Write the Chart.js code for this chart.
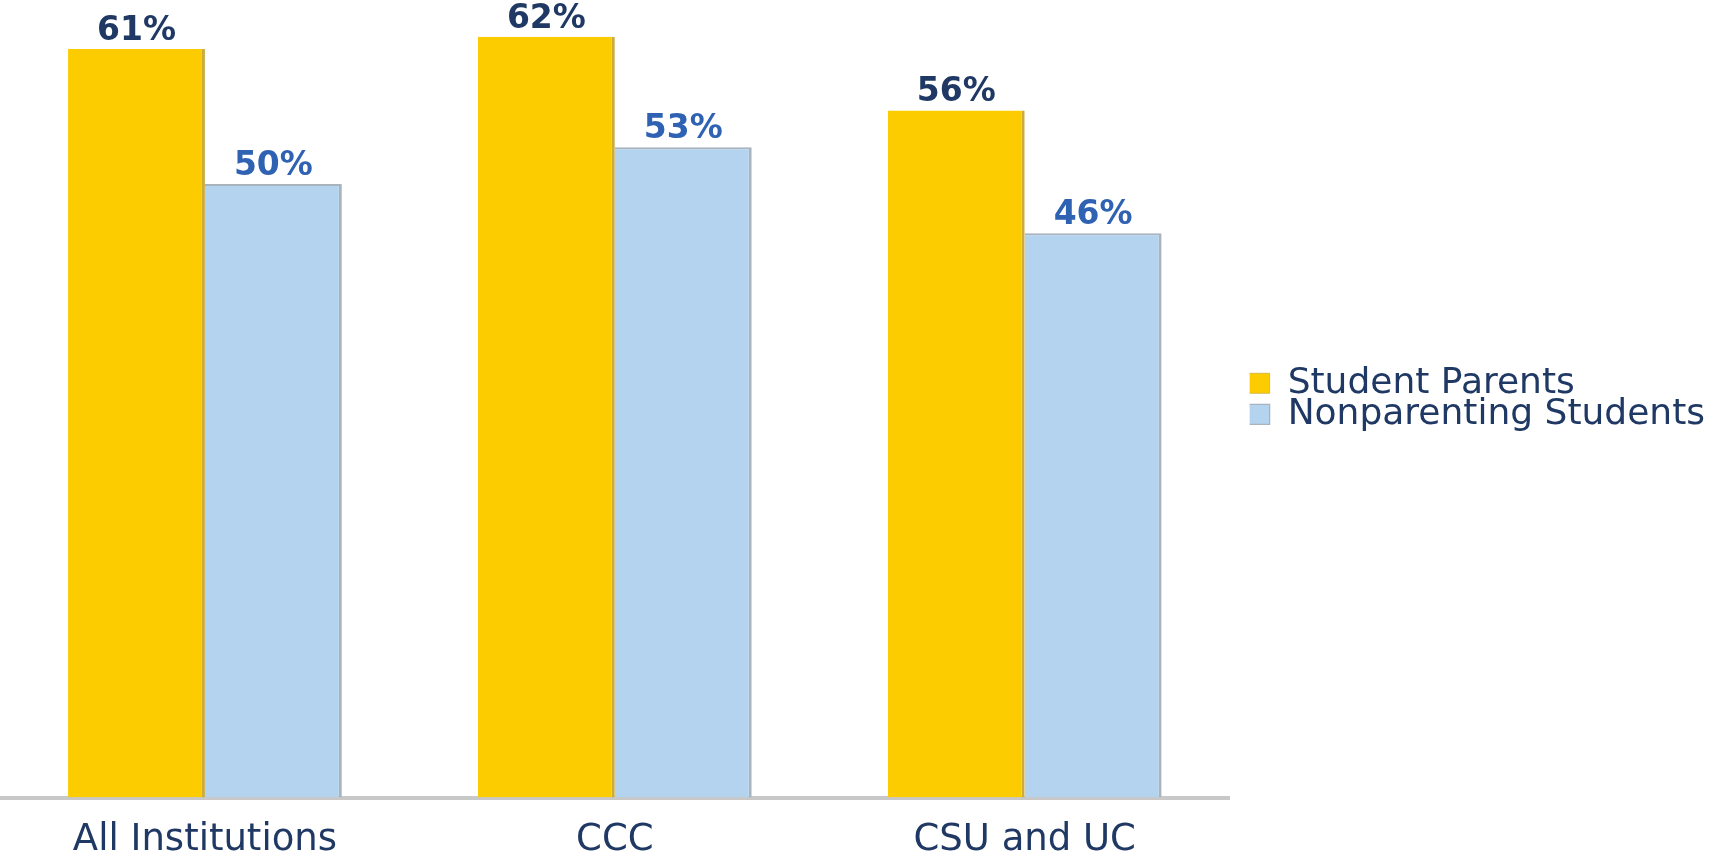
<!DOCTYPE html>
<html>
<head>
<meta charset="utf-8">
<script src="https://cdn.jsdelivr.net/npm/chart.js@4"></script>
<style>
    html, body { margin: 0; padding: 0; background: #fff; overflow: hidden; }
    .chart-wrap { position: relative; width: 1734px; height: 852px; }
</style>
</head>
<body>
<div class="chart-wrap"><canvas id="chart"></canvas></div>
<script>
// Chart data
const categories = ['All Institutions', 'CCC', 'CSU and UC'];
const studentParents = [61, 62, 56];
const nonparentingStudents = [50, 53, 46];
const seriesNames = ['Student Parents', 'Nonparenting Students'];

const NAVY = '#1f3864';
const LABEL_BLUE = '#2f62b3';

// Draws "61%" style labels above each bar, using the bar elements' positions
const barValueLabels = {
    id: 'barValueLabels',
    afterDatasetsDraw(chart) {
        const ctx = chart.ctx;
        ctx.save();
        ctx.font = 'bold 33px "DejaVu Sans", sans-serif';
        ctx.textAlign = 'center';
        ctx.textBaseline = 'alphabetic';
        chart.data.datasets.forEach((ds, di) => {
            const meta = chart.getDatasetMeta(di);
            ctx.fillStyle = di === 0 ? NAVY : LABEL_BLUE;
            meta.data.forEach((bar, i) => {
                ctx.fillText(ds.data[i] + '%', bar.x, bar.y - 9);
            });
        });
        ctx.restore();
    }
};

// Nudge the legend a bit right of the plot, like the original
const legendShift = {
    id: 'legendShift',
    afterLayout(chart) {
        if (!chart.legend) return;
        chart.legend.left += 20;
        chart.legend.right += 20;
    }
};

new Chart(document.getElementById('chart'), {
    type: 'bar',
    data: {
        labels: categories,
        datasets: [
            {
                label: seriesNames[0],
                data: studentParents,
                backgroundColor: '#fccc00',
                borderColor: '#c9ab3e',
                borderWidth: { right: 3, left: 0, top: 0, bottom: 0 },
                borderSkipped: false,
                categoryPercentage: 0.668,
                barPercentage: 1.0
            },
            {
                label: seriesNames[1],
                data: nonparentingStudents,
                backgroundColor: '#b4d3ef',
                borderColor: '#a9b3bd',
                borderWidth: { right: 3, left: 0, top: 2, bottom: 0 },
                borderSkipped: false,
                categoryPercentage: 0.668,
                barPercentage: 1.0
            }
        ]
    },
    options: {
        responsive: true,
        maintainAspectRatio: false,
        animation: false,
        layout: { padding: { left: 0, right: 39, top: 0, bottom: -32 } },
        plugins: {
            legend: {
                position: 'right',
                fullSize: false,
                labels: {
                    // the legend clips 5px off the box's left side (negative padding)
                    boxWidth: 25,
                    boxHeight: 20,
                    padding: -5,
                    color: NAVY,
                    font: { family: '"DejaVu Sans", sans-serif', size: 36 }
                }
            },
            tooltip: { enabled: false }
        },
        scales: {
            y: { display: false, min: 0, max: 65 },
            x: {
                grid: { display: false, drawTicks: false },
                border: { display: true, color: '#c8c8c8', width: 4 },
                ticks: {
                    color: NAVY,
                    padding: 21,
                    font: { family: '"DejaVu Sans", sans-serif', size: 37, lineHeight: 1.2 }
                }
            }
        }
    },
    plugins: [barValueLabels, legendShift]
});
</script>
</body>
</html>
